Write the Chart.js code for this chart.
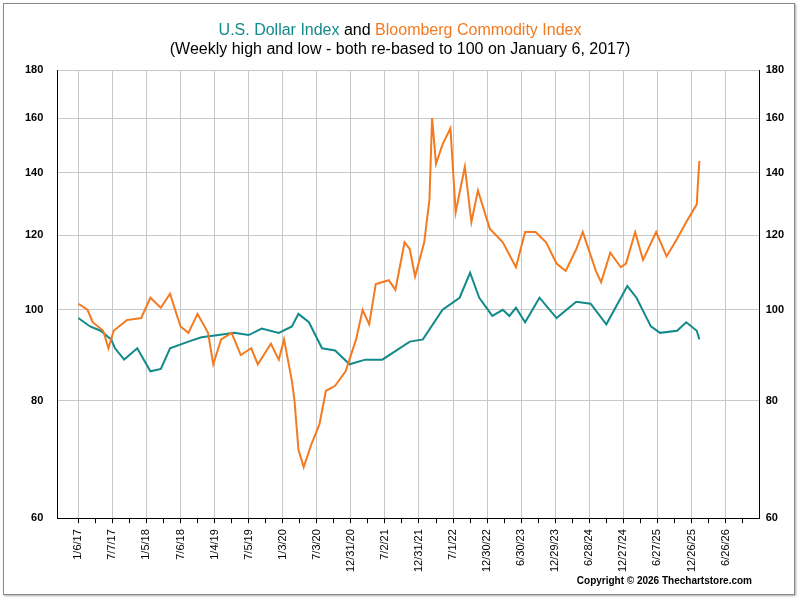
<!DOCTYPE html>
<html>
<head>
<meta charset="utf-8">
<script src="https://cdn.jsdelivr.net/npm/chart.js@4"></script>
<style>
  body { margin: 0; background: #fff; font-family: "Liberation Sans", Arial, sans-serif; }
  #wrap { position: relative; width: 800px; height: 600px; }
  #frame { position: absolute; left: 3px; top: 3px; width: 790px; height: 590px; border: 1px solid #888; box-shadow: 1px 1px 2px #aaa; }
  #title { position: absolute; top: 20px; width: 800px; text-align: center; font-size: 16px; line-height: 19px; color: #000; }
  #copy { position: absolute; right: 48px; top: 575px; font-size: 10px; font-weight: bold; }
  canvas { position: absolute; left: 0; top: 0; }
</style>
</head>
<body>
<div id="wrap">
  <div id="frame"></div>
  <canvas id="chart" width="800" height="600"></canvas>
  <div id="title"><span style="color:#138a8a">U.S. Dollar Index</span> and <span style="color:#f47a20">Bloomberg Commodity Index</span><br>(Weekly high and low - both re-based to 100 on January 6, 2017)</div>
  <div id="copy">Copyright © 2026 Thechartstore.com</div>
</div>
<script>
// x tick labels, one every 26 weeks from 1/6/17
const dateLabels = ["1/6/17","7/7/17","1/5/18","7/6/18","1/4/19","7/5/19","1/3/20","7/3/20","12/31/20","7/2/21",
  "12/31/21","7/1/22","12/30/22","6/30/23","12/29/23","6/28/24","12/27/24","6/27/25","12/26/25","6/26/26"];
const yTicks = [60, 80, 100, 120, 140, 160, 180];

// weeks since 1/6/17
const usdWeeks = [0,9,17,25,28,35,45,55,63,70,84,94,107,119,130,140,153,163,168,176,186,196,207,219,232,253,263,278,291,299,
  306,316,324,329,334,341,352,365,380,391,403,419,426,437,444,457,464,472,474];
const usdValues = [98,96,95,93,91,88.5,91,86,86.5,91,92.5,93.5,94,94.5,94,95.5,94.5,96,99,97,91,90.5,87.5,88.5,88.5,92.5,93,100,103,109.5,
  103,98.5,100,98.5,100.5,97,103,98,102,101.5,96.5,106,103,96,94.5,95,97,95,93];

const bcomWeeks = [0,7,11,19,23,27,37,48,55,63,70,78,84,91,99,103,109,117,124,132,137,147,153,157,163,165,168,172,178,184,
  189,196,204,212,217,222,227,237,242,249,253,257,264,268,270,273,278,284,288,295,300,305,314,324,334,341,349,357,365,372,
  380,385,395,399,406,414,418,425,431,441,449,457,464,472,473,474];
const bcomValues = [101.5,100,97,95,91,95,97.5,98,103,100.5,104,96,94.5,99,94.5,87.5,93,94.5,89.5,91,87.5,92,88.5,93,84,80,71,68,72,75.5,
  82,83,86,93,100,96.5,106.5,107.5,105,118,116,108.5,118,131,160,143,150,156,127,142,124,134,122,118,111,121,121,118,112,110,
  116,121,110,107,115,111,112,121,113,121,114,119,124,129.5,137,144];

const toPoints = (w, v) => w.map((x, i) => ({ x: x, y: v[i] }));

const yAxis = (pos, showGrid, pad) => ({
  type: 'logarithmic', position: pos, min: 60, max: 180,
  afterBuildTicks: s => { s.ticks = yTicks.map(v => ({ value: v })); },
  ticks: { color: '#000', font: { size: 11, weight: 'bold' }, padding: pad, callback: v => v },
  grid: { display: showGrid, color: '#c8c8c8', drawTicks: false },
  border: { color: '#000' }
});

new Chart(document.getElementById('chart'), {
  type: 'scatter',
  data: {
    datasets: [
      { label: 'BCOM', data: toPoints(bcomWeeks, bcomValues), showLine: true, borderColor: '#f47a20', borderWidth: 2, pointRadius: 0, tension: 0 },
      { label: 'USD', data: toPoints(usdWeeks, usdValues), showLine: true, borderColor: '#138a8a', borderWidth: 2, pointRadius: 0, tension: 0 }
    ]
  },
  options: {
    responsive: false, animation: false,
    layout: { padding: { top: 70, left: 11, right: 10, bottom: 22 } },
    plugins: { legend: { display: false }, tooltip: { enabled: false } },
    scales: {
      x: {
        type: 'linear', min: -16, max: 520,
        afterBuildTicks: s => { const t = []; for (let i = 0; i < dateLabels.length * 2; i++) t.push({ value: i * 13 }); s.ticks = t; },
        ticks: {
          color: '#000', font: { size: 11 }, minRotation: 90, maxRotation: 90, autoSkip: false, padding: 6,
          callback: v => (v % 26 === 0 ? dateLabels[v / 26] : '')
        },
        grid: {
          color: c => (c.tick && c.tick.value % 26 === 0 ? '#c8c8c8' : 'rgba(0,0,0,0)'),
          tickColor: '#000', tickLength: 5
        },
        border: { color: '#000' }
      },
      y: yAxis('left', true, 14),
      y2: yAxis('right', false, 6)
    }
  }
});
</script>
</body>
</html>
